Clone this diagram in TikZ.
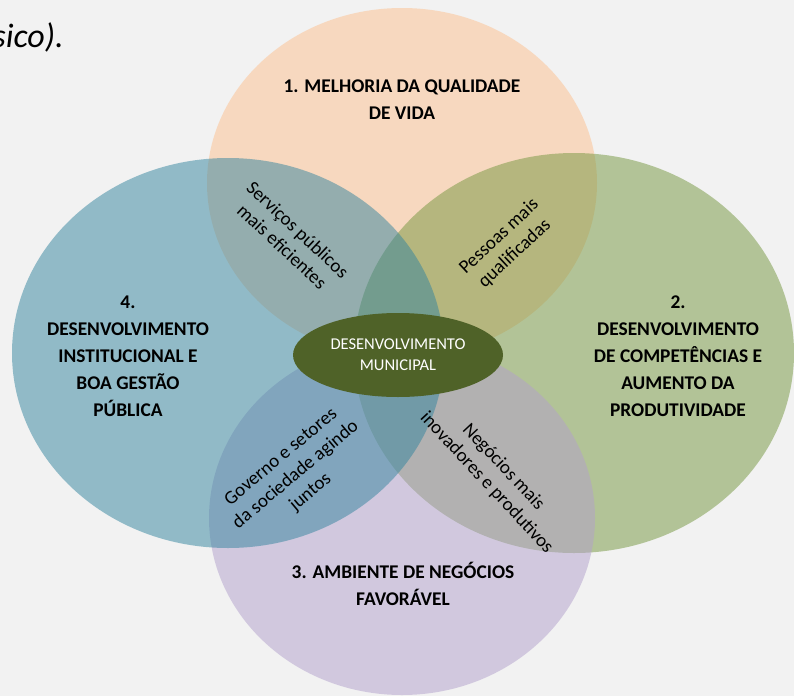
\documentclass[tikz,border=0pt]{standalone}
\usepackage{fontspec}
\setmainfont{Carlito}
\usepackage{xcolor}
\usetikzlibrary{shapes.geometric}

\definecolor{bggray}{RGB}{242,242,242}
\definecolor{peach}{RGB}{252,192,142}
\definecolor{leaf}{RGB}{116,150,62}
\definecolor{lilac}{RGB}{178,160,204}
\definecolor{sea}{RGB}{50,132,158}
\definecolor{olivedark}{RGB}{79,98,40}

\begin{document}
\begin{tikzpicture}[x=1pt,y=-1pt,
                    region/.style={ellipse,fill opacity=0.5,inner sep=0pt},
                    goal/.style={font=\fontsize{19.4}{27}\selectfont\bfseries,align=center},
                    link/.style={font=\fontsize{19}{23}\selectfont,align=center,inner sep=0pt}]
      \fill[bggray] (0,0) rectangle (794,696);
      \useasboundingbox (0,0) rectangle (794,696);

      \node[inner sep=0pt,anchor=base east,font=\fontsize{34}{40}\selectfont\itshape] (0) at (64,47) {sico).};

      % the four circles
      \node[region,fill=peach,minimum width=390pt,minimum height=350pt] (1) at (402,183) {};
      \node[region,fill=leaf,minimum width=440pt,minimum height=400pt] (2) at (574,353) {};
      \node[region,fill=lilac,minimum width=386pt,minimum height=354pt] (3) at (402,518) {};
      \node[region,fill=sea,minimum width=432pt,minimum height=390pt] (4) at (228,353) {};

      \node[ellipse,fill=olivedark,minimum width=210pt,minimum height=84pt,text=white,
            font=\fontsize{16.5}{21}\selectfont,align=center] (5) at (398,355) {DESENVOLVIMENTO\\MUNICIPAL};

      \node[goal] (6) at (402,100) {1. MELHORIA DA QUALIDADE\\DE VIDA};
      \node[goal] (7) at (678,356) {2.\\DESENVOLVIMENTO\\DE COMPETÊNCIAS E\\AUMENTO DA\\PRODUTIVIDADE};
      \node[goal] (8) at (403,584) {3. AMBIENTE DE NEGÓCIOS\\FAVORÁVEL};
      \node[goal] (9) at (128,356) {4.\\DESENVOLVIMENTO\\INSTITUCIONAL E\\BOA GESTÃO\\PÚBLICA};

      % overlaps
      \node[link,rotate=-43] (10) at (290,238) {Serviços públicos\\mais eficientes};
      \node[link,rotate=43] (11) at (507,245) {Pessoas mais\\qualificadas};
      \node[link,rotate=40] (12) at (296,475) {Governo e setores\\da sociedade agindo\\juntos};
      \node[link,rotate=-47] (13) at (495,475) {Negócios mais\\inovadores e produtivos};
    \end{tikzpicture}
\end{document}
